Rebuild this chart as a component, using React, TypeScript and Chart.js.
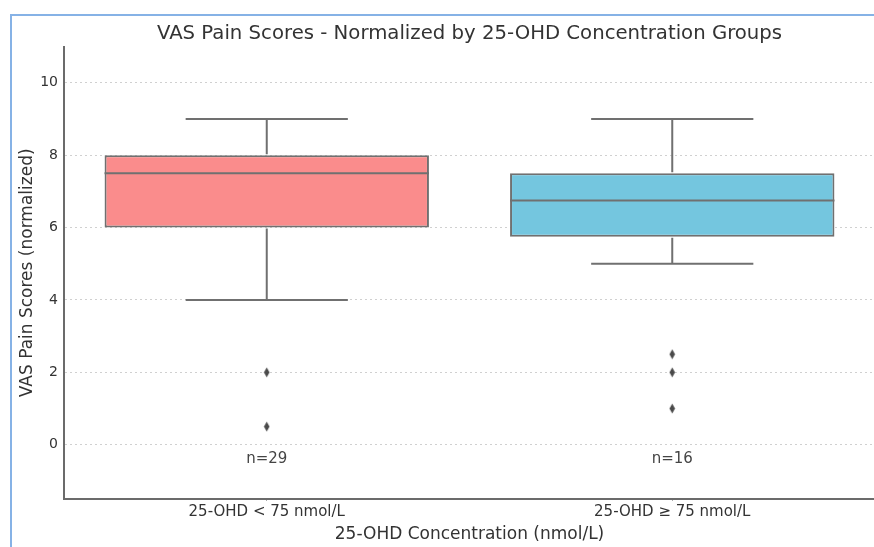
import React, { useEffect, useRef } from 'react';
import { Chart, registerables } from 'chart.js';

Chart.register(...registerables);

const categories = ['25-OHD < 75 nmol/L', '25-OHD ≥ 75 nmol/L'];
const whiskerLow = [4, 5];
const q1 = [6, 5.75];
const median = [7.5, 6.75];
const q3 = [8, 7.5];
const whiskerHigh = [9, 9];
const outliersGroup0 = [2, 0.5];
const outliersGroup1 = [2.5, 2, 1];
const counts = [29, 16];
const yTicks = [0, 2, 4, 6, 8, 10];
const yMin = -1.5;
const yMax = 11;
const boxColors = ['#fa8c8c', '#74c6df'];

const FONT = 'DejaVu Sans';
const LINE = '#707070';

function makeThinDiamond(): HTMLCanvasElement {
  const c = document.createElement('canvas');
  c.width = 7;
  c.height = 11;
  const ctx = c.getContext('2d')!;
  ctx.fillStyle = '#4a4a4a';
  ctx.beginPath();
  ctx.moveTo(3.5, 0.5);
  ctx.lineTo(6.3, 5.5);
  ctx.lineTo(3.5, 10.5);
  ctx.lineTo(0.7, 5.5);
  ctx.closePath();
  ctx.fill();
  return c;
}

const boxPlugin = {
  id: 'boxWhiskers',
  afterDatasetsDraw(chart: any) {
    const ctx = chart.ctx;
    const xs = chart.scales.x;
    const ys = chart.scales.y;
    const meta = chart.getDatasetMeta(0);
    ctx.save();
    ctx.strokeStyle = LINE;
    ctx.lineWidth = 2;
    categories.forEach((_, i) => {
      const el = meta.data[i];
      const cx = xs.getPixelForValue(i);
      const half = el.width / 2;
      const capHalf = half / 2;
      const yLo = ys.getPixelForValue(whiskerLow[i]);
      const yQ1 = ys.getPixelForValue(q1[i]);
      const yMed = ys.getPixelForValue(median[i]);
      const yQ3 = ys.getPixelForValue(q3[i]);
      const yHi = ys.getPixelForValue(whiskerHigh[i]);
      ctx.beginPath();
      ctx.moveTo(cx, yQ3 - 1);
      ctx.lineTo(cx, yHi);
      ctx.moveTo(cx - capHalf, yHi);
      ctx.lineTo(cx + capHalf, yHi);
      ctx.moveTo(cx, yQ1 + 1);
      ctx.lineTo(cx, yLo);
      ctx.moveTo(cx - capHalf, yLo);
      ctx.lineTo(cx + capHalf, yLo);
      ctx.moveTo(cx - half, yMed);
      ctx.lineTo(cx + half, yMed);
      ctx.stroke();
      ctx.fillStyle = '#444';
      ctx.font = `15px "${FONT}"`;
      ctx.textAlign = 'center';
      ctx.textBaseline = 'middle';
      ctx.fillText(`n=${counts[i]}`, cx, ys.getPixelForValue(0) + 14);
    });
    ctx.restore();
  },
};

export default function App() {
  const ref = useRef<HTMLCanvasElement>(null);

  useEffect(() => {
    if (!ref.current) return;
    const diamond = makeThinDiamond();
    const outlierData = [
      ...outliersGroup0.map((v) => ({ x: categories[0], y: v })),
      ...outliersGroup1.map((v) => ({ x: categories[1], y: v })),
    ];
    const chart = new Chart(ref.current, {
      type: 'bar',
      data: {
        labels: categories,
        datasets: [
          {
            type: 'bar',
            data: categories.map((_, i) => [q1[i], q3[i]]) as any,
            backgroundColor: boxColors,
            borderColor: LINE,
            borderWidth: 2,
            borderSkipped: false,
            barPercentage: 0.8,
            categoryPercentage: 1,
          } as any,
          {
            type: 'line',
            data: outlierData as any,
            showLine: false,
            pointStyle: diamond as any,
            pointRadius: 5,
            borderColor: '#4a4a4a',
            backgroundColor: '#4a4a4a',
          } as any,
        ],
      },
      options: {
        animation: false,
        responsive: true,
        maintainAspectRatio: false,
        layout: { padding: { top: 16, left: 14, right: 0, bottom: 0 } },
        plugins: {
          legend: { display: false },
          tooltip: { enabled: false },
          title: {
            display: true,
            text: 'VAS Pain Scores - Normalized by 25-OHD Concentration Groups',
            fullSize: false,
            color: '#333',
            font: { family: FONT, size: 19.7, weight: 'normal' },
            padding: { top: 6, bottom: 1 },
          },
        },
        scales: {
          x: {
            type: 'category',
            offset: true,
            grid: {
              display: true,
              drawOnChartArea: false,
              drawTicks: true,
              tickLength: 2,
              tickColor: '#aaa',
              offset: false,
            },
            border: { display: true, color: '#6b6b6b', width: 2 },
            ticks: {
              color: '#333',
              font: { family: FONT, size: 15 },
              padding: 2,
              maxRotation: 0,
              minRotation: 0,
            },
            title: {
              display: true,
              text: '25-OHD Concentration (nmol/L)',
              color: '#333',
              font: { family: FONT, size: 17 },
              padding: { top: 2, bottom: 2 },
            },
            afterFit: (s: any) => {
              s.height = 48;
            },
          },
          y: {
            type: 'linear',
            min: yMin,
            max: yMax,
            afterBuildTicks: (s: any) => {
              s.ticks = yTicks.map((v) => ({ value: v }));
            },
            grid: { color: '#d0d0d0', lineWidth: 1, drawTicks: false },
            border: { display: true, color: '#6b6b6b', width: 2, dash: [2, 3] },
            ticks: {
              color: '#333',
              font: { family: FONT, size: 14 },
              padding: 6,
            },
            title: {
              display: true,
              text: 'VAS Pain Scores (normalized)',
              color: '#333',
              font: { family: FONT, size: 17 },
              padding: { top: 3, bottom: 4 },
            },
            afterFit: (s: any) => {
              s.width = 50;
            },
          },
        },
      } as any,
      plugins: [boxPlugin],
    });
    return () => chart.destroy();
  }, []);

  return (
    <div style={{ position: 'fixed', left: 0, top: 0, width: 874, height: 547, background: '#fff', overflow: 'hidden' }}>
      <div
        style={{
          position: 'absolute',
          left: 10,
          top: 14,
          width: 900,
          height: 600,
          borderLeft: '2px solid #86b2e6',
          borderTop: '2px solid #86b2e6',
        }}
      />
      <div style={{ position: 'absolute', left: 0, top: 0, width: 881, height: 547 }}>
        <canvas ref={ref} />
      </div>
    </div>
  );
}
